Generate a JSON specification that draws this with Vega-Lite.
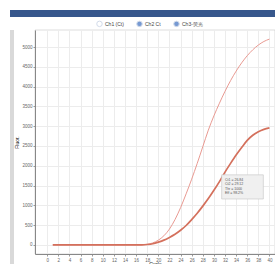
{
  "$schema": "https://vega.github.io/schema/vega-lite/v6.json",
  "background": "white",
  "padding": {"left": 10, "top": 10, "right": 0, "bottom": 0},
  "spacing": 12,
  "config": {
    "font": "Liberation Sans",
    "view": {"stroke": null},
    "axisX": {
      "labelOverlap": false,
      "titleFontSize": 5,
      "titleFontWeight": "normal",
      "titlePadding": 0,
      "labelFontSize": 4.5,
      "labelPadding": 1,
      "labelColor": "#666666",
      "tickSize": 2,
      "tickColor": "#999999",
      "domainColor": "#888888",
      "gridColor": "#ececec",
      "gridWidth": 1
    },
    "axisY": {
      "labelOverlap": false,
      "titleFontSize": 5,
      "titleFontWeight": "normal",
      "titlePadding": 2,
      "labelFontSize": 4.5,
      "labelPadding": 1,
      "labelColor": "#666666",
      "tickSize": 2,
      "tickColor": "#999999",
      "domainColor": "#888888",
      "gridColor": "#ececec",
      "gridWidth": 1
    }
  },
  "vconcat": [
    {
      "width": 265,
      "height": 7,
      "view": {"fill": "#37578c", "stroke": null},
      "data": {"values": []},
      "mark": "rect",
      "encoding": {}
    },
    {
      "spacing": 0,
      "hconcat": [
        {
          "width": 4,
          "height": 235,
          "view": {"fill": "#d9d9d9", "stroke": null},
          "data": {"values": []},
          "mark": "rect",
          "encoding": {}
        },
        {
          "width": 240,
          "height": 224,
          "view": {"stroke": "#bbbbbb", "strokeWidth": 0.5},
          "layer": [
            {
              "data": {
                "values": [
                  {"cycle": 1, "series": "upper", "value": 0}, {"cycle": 2, "series": "upper", "value": 0}, {"cycle": 3, "series": "upper", "value": 0}, {"cycle": 4, "series": "upper", "value": 0}, {"cycle": 5, "series": "upper", "value": 0}, {"cycle": 6, "series": "upper", "value": 0}, {"cycle": 7, "series": "upper", "value": 0}, {"cycle": 8, "series": "upper", "value": 0}, {"cycle": 9, "series": "upper", "value": 0}, {"cycle": 10, "series": "upper", "value": 0}, {"cycle": 11, "series": "upper", "value": 0}, {"cycle": 12, "series": "upper", "value": 0}, {"cycle": 13, "series": "upper", "value": 0}, {"cycle": 14, "series": "upper", "value": 0}, {"cycle": 15, "series": "upper", "value": 0}, {"cycle": 16, "series": "upper", "value": 0}, {"cycle": 17, "series": "upper", "value": 0},
                  {"cycle": 18, "series": "upper", "value": 15}, {"cycle": 19, "series": "upper", "value": 50}, {"cycle": 20, "series": "upper", "value": 120}, {"cycle": 21, "series": "upper", "value": 230}, {"cycle": 22, "series": "upper", "value": 400}, {"cycle": 23, "series": "upper", "value": 640}, {"cycle": 24, "series": "upper", "value": 940}, {"cycle": 25, "series": "upper", "value": 1290}, {"cycle": 26, "series": "upper", "value": 1660}, {"cycle": 27, "series": "upper", "value": 2060}, {"cycle": 28, "series": "upper", "value": 2480}, {"cycle": 29, "series": "upper", "value": 2900}, {"cycle": 30, "series": "upper", "value": 3260}, {"cycle": 31, "series": "upper", "value": 3580}, {"cycle": 32, "series": "upper", "value": 3880}, {"cycle": 33, "series": "upper", "value": 4150}, {"cycle": 34, "series": "upper", "value": 4390}, {"cycle": 35, "series": "upper", "value": 4600}, {"cycle": 36, "series": "upper", "value": 4780}, {"cycle": 37, "series": "upper", "value": 4930}, {"cycle": 38, "series": "upper", "value": 5050}, {"cycle": 39, "series": "upper", "value": 5140}, {"cycle": 40, "series": "upper", "value": 5200},
                  {"cycle": 1, "series": "lower", "value": 0}, {"cycle": 2, "series": "lower", "value": 0}, {"cycle": 3, "series": "lower", "value": 0}, {"cycle": 4, "series": "lower", "value": 0}, {"cycle": 5, "series": "lower", "value": 0}, {"cycle": 6, "series": "lower", "value": 0}, {"cycle": 7, "series": "lower", "value": 0}, {"cycle": 8, "series": "lower", "value": 0}, {"cycle": 9, "series": "lower", "value": 0}, {"cycle": 10, "series": "lower", "value": 0}, {"cycle": 11, "series": "lower", "value": 0}, {"cycle": 12, "series": "lower", "value": 0}, {"cycle": 13, "series": "lower", "value": 0}, {"cycle": 14, "series": "lower", "value": 0}, {"cycle": 15, "series": "lower", "value": 0}, {"cycle": 16, "series": "lower", "value": 0}, {"cycle": 17, "series": "lower", "value": 0},
                  {"cycle": 18, "series": "lower", "value": 10}, {"cycle": 19, "series": "lower", "value": 30}, {"cycle": 20, "series": "lower", "value": 70}, {"cycle": 21, "series": "lower", "value": 120}, {"cycle": 22, "series": "lower", "value": 190}, {"cycle": 23, "series": "lower", "value": 270}, {"cycle": 24, "series": "lower", "value": 370}, {"cycle": 25, "series": "lower", "value": 490}, {"cycle": 26, "series": "lower", "value": 640}, {"cycle": 27, "series": "lower", "value": 800}, {"cycle": 28, "series": "lower", "value": 980}, {"cycle": 29, "series": "lower", "value": 1170}, {"cycle": 30, "series": "lower", "value": 1380}, {"cycle": 31, "series": "lower", "value": 1600}, {"cycle": 32, "series": "lower", "value": 1840}, {"cycle": 33, "series": "lower", "value": 2060}, {"cycle": 34, "series": "lower", "value": 2270}, {"cycle": 35, "series": "lower", "value": 2460}, {"cycle": 36, "series": "lower", "value": 2640}, {"cycle": 37, "series": "lower", "value": 2770}, {"cycle": 38, "series": "lower", "value": 2860}, {"cycle": 39, "series": "lower", "value": 2920}, {"cycle": 40, "series": "lower", "value": 2955}
                ]
              },
              "mark": {"type": "line", "interpolate": "monotone"},
              "encoding": {
                "x": {
                  "field": "cycle",
                  "type": "quantitative",
                  "scale": {"domain": [-2.2, 41], "nice": false, "zero": false},
                  "axis": {"values": [0, 2, 4, 6, 8, 10, 12, 14, 16, 18, 20, 22, 24, 26, 28, 30, 32, 34, 36, 38, 40], "title": "Cycle"}
                },
                "y": {
                  "field": "value",
                  "type": "quantitative",
                  "scale": {"domain": [-230, 5430], "nice": false, "zero": false},
                  "axis": {"values": [0, 500, 1000, 1500, 2000, 2500, 3000, 3500, 4000, 4500, 5000], "format": "d", "title": "Fluor."}
                },
                "color": {
                  "field": "series",
                  "type": "nominal",
                  "scale": {"domain": ["upper", "lower"], "range": ["#e99a92", "#d4705c"]},
                  "legend": null
                },
                "strokeWidth": {
                  "field": "series",
                  "type": "nominal",
                  "scale": {"domain": ["upper", "lower"], "range": [1, 1.7]},
                  "legend": null
                }
              }
            },
            {
              "data": {"values": [{}]},
              "mark": {"type": "rect", "fill": "#f0f0f0", "stroke": "#c4c4c4", "strokeWidth": 0.6},
              "encoding": {
                "x": {
                  "datum": 31.4,
                  "type": "quantitative",
                  "axis": {"values": [0, 2, 4, 6, 8, 10, 12, 14, 16, 18, 20, 22, 24, 26, 28, 30, 32, 34, 36, 38, 40], "title": "Cycle"}
                },
                "x2": {"datum": 38.9},
                "y": {
                  "datum": 1770,
                  "type": "quantitative",
                  "axis": {"values": [0, 500, 1000, 1500, 2000, 2500, 3000, 3500, 4000, 4500, 5000], "format": "d", "title": "Fluor."}
                },
                "y2": {"datum": 1160}
              }
            },
            {
              "data": {"values": [{}]},
              "mark": {"type": "text", "align": "left", "baseline": "top", "fontSize": 3.5, "lineHeight": 4.5, "color": "#555555"},
              "encoding": {
                "x": {
                  "datum": 32.0,
                  "type": "quantitative",
                  "axis": {"values": [0, 2, 4, 6, 8, 10, 12, 14, 16, 18, 20, 22, 24, 26, 28, 30, 32, 34, 36, 38, 40], "title": "Cycle"}
                },
                "y": {
                  "datum": 1700,
                  "type": "quantitative",
                  "axis": {"values": [0, 500, 1000, 1500, 2000, 2500, 3000, 3500, 4000, 4500, 5000], "format": "d", "title": "Fluor."}
                },
                "text": {"value": ["Ct1 = 26.84", "Ct2 = 29.12", "Thr = 1000", "Eff = 98.2%"]}
              }
            },
            {
              "data": {
                "values": [
                  {"item": "Ch1 (Ct)", "cycle": null, "value": null},
                  {"item": "Ch2 Ct", "cycle": null, "value": null},
                  {"item": "Ch3-荧光", "cycle": null, "value": null}
                ]
              },
              "mark": {"type": "point", "filled": true, "shape": "circle"},
              "encoding": {
                "x": {
                  "field": "cycle",
                  "type": "quantitative",
                  "axis": {"values": [0, 2, 4, 6, 8, 10, 12, 14, 16, 18, 20, 22, 24, 26, 28, 30, 32, 34, 36, 38, 40], "title": "Cycle"}
                },
                "y": {
                  "field": "value",
                  "type": "quantitative",
                  "axis": {"values": [0, 500, 1000, 1500, 2000, 2500, 3000, 3500, 4000, 4500, 5000], "format": "d", "title": "Fluor."}
                },
                "fill": {
                  "field": "item",
                  "type": "nominal",
                  "scale": {"domain": ["Ch1 (Ct)", "Ch2 Ct", "Ch3-荧光"], "range": ["#ffffff", "#3d6fc0", "#3d6fc0"]},
                  "legend": {
                    "orient": "none",
                    "legendX": 86,
                    "legendY": 10,
                    "direction": "horizontal",
                    "title": null,
                    "symbolType": "circle",
                    "symbolSize": 30,
                    "symbolStrokeColor": "#c0cde2",
                    "symbolStrokeWidth": 1,
                    "labelFontSize": 5,
                    "labelColor": "#444444",
                    "labelOffset": 2,
                    "columnPadding": 10,
                    "padding": 0
                  }
                }
              }
            }
          ]
        }
      ]
    }
  ]
}
